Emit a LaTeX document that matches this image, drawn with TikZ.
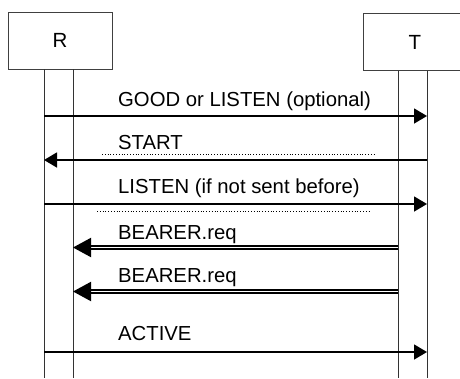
\documentclass[tikz,border=0pt]{standalone}
\usepackage{fontspec}
\setmainfont{Liberation Sans}
\usetikzlibrary{arrows.meta, positioning, calc}

\begin{document}
\begin{tikzpicture}[x=1pt, y=-1pt,
    entity/.style={draw=black!75, line width=0.8pt, minimum width=104pt, minimum height=57pt, inner sep=0pt, font=\fontsize{20.5}{24}\selectfont},
    lifeline/.style={draw=black!80, line width=0.8pt},
    msg/.style={line width=1.5pt, -{Triangle[length=13pt, width=15pt]}},
    req/.style={double, line width=2pt, double distance=1pt, -{Triangle[length=18pt, width=19pt]}},
    msglabel/.style={anchor=base west, inner sep=0pt, font=\fontsize{20.3}{24}\selectfont},
    sepline/.style={dotted, line width=0.8pt}]
    \useasboundingbox (0,0) rectangle (460,378);
    \begin{scope}
        \clip (0,0) rectangle (460,378);
        \node[entity] (R) at (60,40.5) {R};
        \node[entity] (T) at (415,42) {T};
    \end{scope}
    % lifelines
    \foreach \n/\x/\b in {Ra/44/R, Rb/73/R, Ta/398/T, Tb/427/T} {
        \coordinate (\n) at (\x,378);
        \draw[lifeline] (\b.south -| \n) -- (\n);
    }
    % message rows
    \foreach \m/\y in {m1/116, m2/160, m3/204, m4/247.5, m5/291.5, m6/352} {
        \coordinate (\m) at (0,\y);
    }
    \node[msglabel] (l1) at (118,106) {GOOD or LISTEN (optional)};
    \draw[msg] (Ra |- m1) -- (Tb |- m1);
    \node[msglabel] (l2) at (118,149) {START};
    \coordinate (d1a) at (102,154);
    \coordinate (d1b) at (375,154);
    \draw[sepline] (d1a) -- (d1b);
    \draw[msg] (Tb |- m2) -- (Ra |- m2);
    \node[msglabel] (l3) at (118,193) {LISTEN (if not sent before)};
    \draw[msg] (Ra |- m3) -- (Tb |- m3);
    \coordinate (d2a) at (97,211);
    \coordinate (d2b) at (370,211);
    \draw[sepline] (d2a) -- (d2b);
    \node[msglabel] (l4) at (118,239) {BEARER.req};
    \draw[req] (Ta |- m4) -- (Rb |- m4);
    \node[msglabel] (l5) at (118,282) {BEARER.req};
    \draw[req] (Ta |- m5) -- (Rb |- m5);
    \node[msglabel] (l6) at (118,340) {ACTIVE};
    \draw[msg] (Ra |- m6) -- (Tb |- m6);
\end{tikzpicture}
\end{document}
